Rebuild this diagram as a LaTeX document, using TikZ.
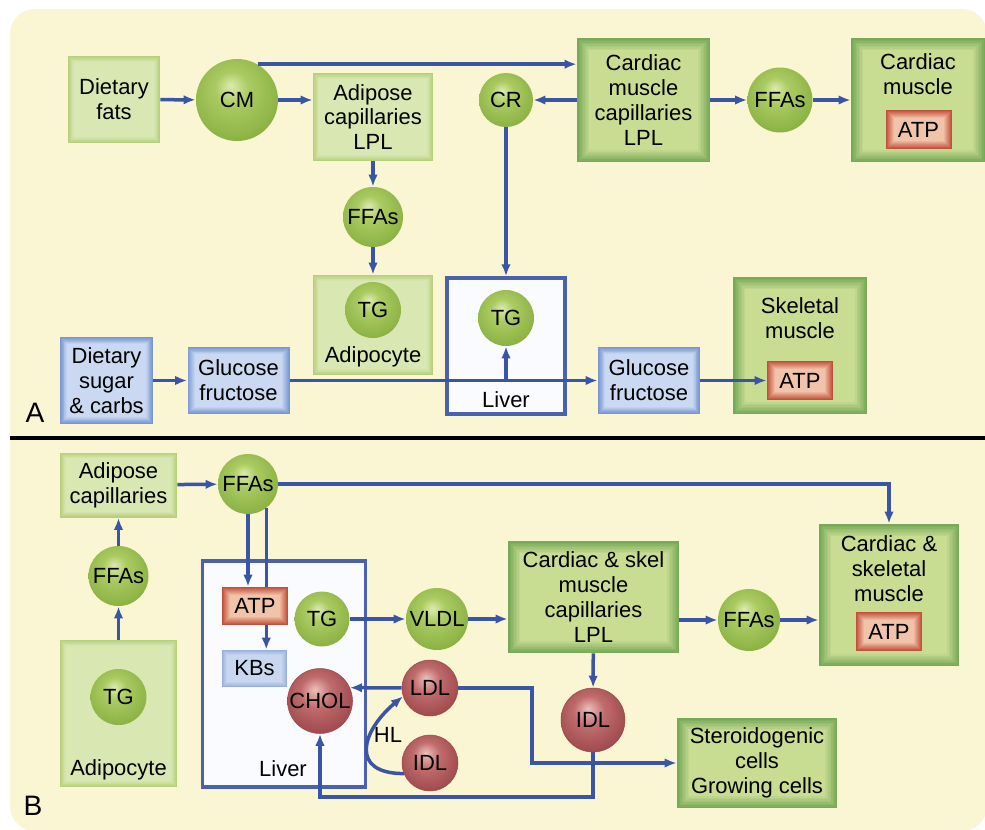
\documentclass[tikz,border=0pt]{standalone}
\usepackage{fontspec}
\setmainfont{Liberation Sans}
\usetikzlibrary{arrows.meta}

\definecolor{bgyellow}{HTML}{FAF5D2}
\definecolor{lgedge}{HTML}{B5CF7A}
\definecolor{lginner}{HTML}{D9E7B3}
\definecolor{dgedge}{HTML}{78A958}
\definecolor{dginner}{HTML}{C8DC92}
\definecolor{bledge}{HTML}{7996D2}
\definecolor{blinner}{HTML}{CAD9F1}
\definecolor{atpedge}{HTML}{C24F3A}
\definecolor{atpinner}{HTML}{F1C4AA}
\definecolor{kbedge}{HTML}{97B0DC}
\definecolor{kbinner}{HTML}{C8D7EF}
\definecolor{liverblue}{HTML}{4A62AE}
\definecolor{liverfill}{HTML}{FAFBFF}
\definecolor{flowblue}{HTML}{3A55A6}
\definecolor{gbhi}{HTML}{DCEBAE}
\definecolor{gbmid}{HTML}{ABCB62}
\definecolor{gblo}{HTML}{86AD3E}
\definecolor{rbhi}{HTML}{EBC0BB}
\definecolor{rbmid}{HTML}{C06C6C}
\definecolor{rblo}{HTML}{984449}
\definecolor{rbedge}{HTML}{9E4A4E}

\pgfdeclareradialshading{greenball}{\pgfpoint{-4bp}{9bp}}{color(0bp)=(gbhi); color(10bp)=(gbmid); color(32bp)=(gblo); color(50bp)=(gblo)}
\pgfdeclareradialshading{redball}{\pgfpoint{-4bp}{9bp}}{color(0bp)=(rbhi); color(12bp)=(rbmid); color(32bp)=(rblo); color(50bp)=(rblo)}

\tikzset{
  bevel/.style n args={3}{fill=#1, path picture={
    \foreach \k in {1,...,8}{
      \pgfmathsetmacro\p{\k*12.5}
      \fill[fill=#2!\p!#1] ([shift={(\k*#3,\k*#3)}]path picture bounding box.south west)
        rectangle ([shift={(-\k*#3,-\k*#3)}]path picture bounding box.north east);}}},
  lgbox/.style={bevel={lgedge}{lginner}{0.14mm}},
  dgbox/.style={bevel={dgedge}{dginner}{0.3mm}},
  blbox/.style={bevel={bledge}{blinner}{0.18mm}},
  kbbox/.style={bevel={kbedge}{kbinner}{0.12mm}},
  atpbox/.style={bevel={atpedge}{atpinner}{0.2mm}, minimum width=13.2mm, minimum height=7.8mm},
  liverbox/.style={draw=liverblue, line width=0.7mm, fill=liverfill},
  gball/.style={circle, shade, shading=greenball, minimum size=#1},
  rball/.style={circle, shade, shading=redball, draw=rbedge, line width=0.3pt, minimum size=#1},
  flow/.style={->, draw=flowblue, line width=0.7mm},
  panellabel/.style={font=\fontsize{16}{16}\selectfont}
}

\begin{document}
\begin{tikzpicture}[x=0.2mm,y=-0.2mm,>={Latex[length=2.4mm,width=1.9mm]},
  every node/.style={font=\fontsize{12.5}{14.2}\selectfont, align=center, inner sep=0pt}]
\useasboundingbox (0,0) rectangle (985,829);
\fill[bgyellow, rounded corners=5mm] (10,9) rectangle (987,831);
\draw[line width=0.8mm] (10,437.5) -- (987,437.5);

% A: dietary fats
\node[lgbox, minimum width=18.4mm, minimum height=17.4mm] (fatsA) at (114,99.5) {Dietary\\fats};
\node[gball=16.4mm] (cmA) at (237,100) {CM};
\node[lgbox, minimum width=24mm, minimum height=17.6mm] (adcapA) at (373,117) {Adipose\\capillaries\\LPL};
\node[gball=10.8mm] (crA) at (506,100) {CR};
\node[dgbox, minimum width=26.6mm, minimum height=24.8mm] (cmcapA) at (643.5,100) {Cardiac\\muscle\\capillaries\\LPL};
\node[gball=13mm] (ffaA1) at (780,100) {FFAs};
\node[dgbox, minimum width=26.8mm, minimum height=24.8mm] (cardA) at (918,100) {};
\node (cardAtxt) at (918,74) {Cardiac\\muscle};
\node[atpbox] (atpCardA) at (918.5,129.5) {ATP};
\node[gball=12mm] (ffaA2) at (373,217) {FFAs};
\node[lgbox, minimum width=24mm, minimum height=20mm] (adipoA) at (373,325) {};
\node[gball=11.2mm] (tgAdipoA) at (373,310) {TG};
\node (adipoAtxt) at (373,357) {Adipocyte};
\node[liverbox, minimum width=23.6mm, minimum height=27.2mm] (liverA) at (506,346) {};
\node[gball=11.2mm] (tgLiverA) at (506,318) {TG};
\node (liverAtxt) at (506,400) {Liver};

% A: dietary sugar
\node[blbox, minimum width=18.6mm, minimum height=17.4mm] (sugarA) at (106.5,380.5) {Dietary\\sugar\\\& carbs};
\node[blbox, minimum width=20.4mm, minimum height=13.4mm] (glucA1) at (238.5,380.5) {Glucose\\fructose};
\node[blbox, minimum width=20.4mm, minimum height=13.4mm] (glucA2) at (649,380.5) {Glucose\\fructose};
\node[dgbox, minimum width=26.8mm, minimum height=27.4mm] (skelA) at (800,345.5) {};
\node (skelAtxt) at (800,318.5) {Skeletal\\muscle};
\node[atpbox] (atpSkelA) at (800,380.5) {ATP};
\node[panellabel] (labA) at (35,413) {A};

\draw[flow] (fatsA) -- (cmA);
\draw[flow] (cmA.east) -- (cmA.east -| adcapA.west);
\draw[flow] (cmA.60) -- (cmA.60 -| cmcapA.west);
\draw[flow] (cmcapA) -- (crA);
\draw[flow] (crA) -- (crA |- liverA.north);
\draw[flow] (cmcapA) -- (ffaA1);
\draw[flow] (ffaA1) -- (cardA);
\draw[flow] (adcapA) -- (ffaA2);
\draw[flow] (ffaA2) -- (adipoA);
\draw[flow] (sugarA) -- (glucA1);
\draw[flow] (glucA1) -- (glucA2);
\draw[flow] (tgLiverA |- glucA1) -- (tgLiverA);
\draw[flow] (glucA2) -- (atpSkelA);

% B: adipose and liver
\node[lgbox, minimum width=23.4mm, minimum height=13mm] (adcapB) at (118.5,485) {Adipose\\capillaries};
\node[gball=12mm] (ffaB1) at (248,484) {FFAs};
\node[gball=12mm] (ffaB2) at (118.5,576) {FFAs};
\node[lgbox, minimum width=23.4mm, minimum height=29.4mm] (adipoB) at (118.5,713.5) {};
\node[gball=11.2mm] (tgAdipoB) at (118.5,697) {TG};
\node (adipoBtxt) at (118.5,770) {Adipocyte};
\node[liverbox, minimum width=32.6mm, minimum height=45.2mm] (liverB) at (284,674) {};
\node (liverBtxt) at (283,769) {Liver};
\node[kbbox, minimum width=13mm, minimum height=7.4mm] (kbs) at (254.5,668.5) {KBs};
\draw[flow] (ffaB1.-53) -- (ffaB1.-53 |- kbs.north);
\node[atpbox, minimum height=7.6mm] (atpB) at (255,606) {ATP};
\draw[flow] (ffaB1) -- (ffaB1 |- atpB.north);
\node[gball=11mm] (tgB) at (322,619) {TG};
\node[rball=13mm] (chol) at (320,701) {CHOL};
\node[gball=12.4mm] (vldl) at (437,619) {VLDL};
\node[rball=11.2mm] (ldl) at (430,688) {LDL};
\node[rball=11.2mm] (idlL) at (430,763) {IDL};
\node (hl) at (388,735) {HL};

% B: muscle
\node[dgbox, minimum width=34.2mm, minimum height=22.4mm] (capB) at (593.5,597) {Cardiac \& skel\\muscle\\capillaries\\LPL};
\node[gball=12.4mm] (ffaB3) at (749,620) {FFAs};
\node[dgbox, minimum width=28mm, minimum height=28.4mm] (cardB) at (889,595) {};
\node (cardBtxt) at (889,569) {Cardiac \&\\skeletal\\muscle};
\node[atpbox] (atpCardB) at (889,631.5) {ATP};
\node[rball=12.8mm] (idlR) at (593,720) {IDL};
\node[dgbox, minimum width=32mm, minimum height=18mm] (steroid) at (757,763) {Steroidogenic\\cells\\Growing cells};
\node[panellabel] (labB) at (33,806) {B};
\coordinate (ldlturn) at (532,763);
\coordinate (lowpath) at (320,797);

\draw[flow] (adipoB) -- (ffaB2);
\draw[flow] (ffaB2) -- (adcapB);
\draw[flow] (adcapB) -- (ffaB1);
\draw[flow] (ffaB1) -| (cardB);
\draw[flow] (tgB) -- (vldl);
\draw[flow] (vldl.east) -- (vldl.east -| capB.west);
\draw[flow] (ffaB3 -| capB.east) -- (ffaB3);
\draw[flow] (ffaB3) -- (ffaB3 -| cardB.west);
\draw[flow] (capB) -- (idlR);
\draw[flow] (ldl) -- (chol.24);
\draw[flow] (idlL.202) to[out=180,in=220,looseness=1.8] (ldl.197);
\draw[flow] (ldl.east) -| (ldlturn) -- (steroid);
\draw[flow] (idlR) |- (lowpath) -- (chol);
\end{tikzpicture}
\end{document}
